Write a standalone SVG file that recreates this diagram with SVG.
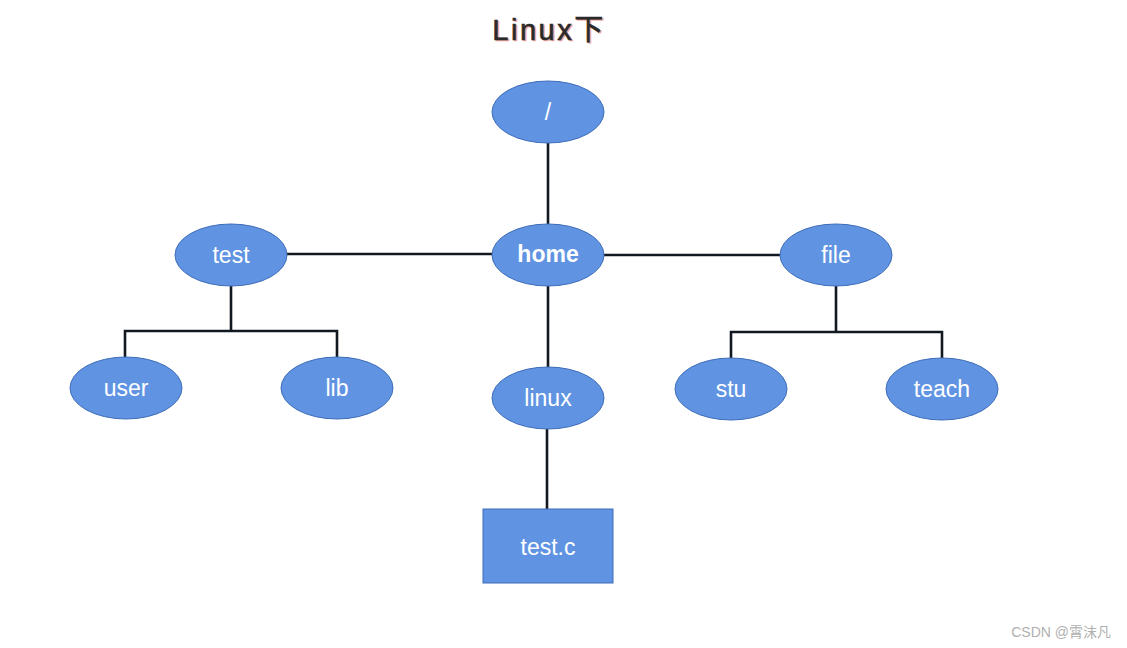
<svg xmlns="http://www.w3.org/2000/svg" width="1127" height="648" viewBox="0 0 1127 648">
<style>
.n{fill:#6094e2;stroke:#3f6db8;stroke-width:1}
.t{font-family:"Liberation Sans",Arial,sans-serif;font-size:23px;fill:#fff;text-anchor:middle}
.c{stroke:#111820;stroke-width:2.6;fill:none}
.title{font-family:"Liberation Sans","Noto Sans CJK SC",sans-serif;font-size:29px;text-anchor:middle;letter-spacing:2.5px;stroke-width:0.6}
</style>
<rect width="1127" height="648" fill="#fff"/>
<text class="title" x="550.5" y="41" fill="#f0a8a0" stroke="#f0a8a0">Linux下</text>
<text class="title" x="549" y="39.5" fill="#2a2a2a" stroke="#2a2a2a">Linux下</text>
<g id="connectors">
<line class="c" x1="548" y1="143" x2="548" y2="224"/>
<line class="c" x1="287" y1="254" x2="492" y2="254"/>
<line class="c" x1="604" y1="255" x2="780" y2="255"/>
<line class="c" x1="548" y1="286" x2="548" y2="367"/>
<line class="c" x1="547" y1="429" x2="547" y2="509"/>
<polyline class="c" points="231,286 231,331"/>
<polyline class="c" points="125,358 125,331 337,331 337,358"/>
<polyline class="c" points="836,286 836,332"/>
<polyline class="c" points="731,359 731,332 942,332 942,359"/>
</g>
<g id="root"><ellipse class="n" cx="548" cy="112" rx="56" ry="31"/><text class="t" x="548" y="120">/</text></g>
<g id="home"><ellipse class="n" cx="548" cy="255" rx="56" ry="31"/><text class="t" x="548" y="262" font-weight="bold" font-size="21">home</text></g>
<g id="test"><ellipse class="n" cx="231" cy="255" rx="56" ry="31"/><text class="t" x="231" y="263">test</text></g>
<g id="file"><ellipse class="n" cx="836" cy="255" rx="56" ry="31"/><text class="t" x="836" y="263">file</text></g>
<g id="user"><ellipse class="n" cx="126" cy="388" rx="56" ry="31"/><text class="t" x="126" y="396">user</text></g>
<g id="lib"><ellipse class="n" cx="337" cy="388" rx="56" ry="31"/><text class="t" x="337" y="396">lib</text></g>
<g id="linux"><ellipse class="n" cx="548" cy="398" rx="56" ry="31"/><text class="t" x="548" y="406">linux</text></g>
<g id="stu"><ellipse class="n" cx="731" cy="389" rx="56" ry="31"/><text class="t" x="731" y="397">stu</text></g>
<g id="teach"><ellipse class="n" cx="942" cy="389" rx="56" ry="31"/><text class="t" x="942" y="397">teach</text></g>
<g id="testc"><rect class="n" x="483" y="509" width="130" height="74"/><text class="t" x="548" y="555">test.c</text></g>
<text x="1111" y="637" font-family="'Liberation Sans','Noto Sans CJK SC',sans-serif" font-size="14" fill="#b0b0b0" text-anchor="end">CSDN @霄沫凡</text>
</svg>
